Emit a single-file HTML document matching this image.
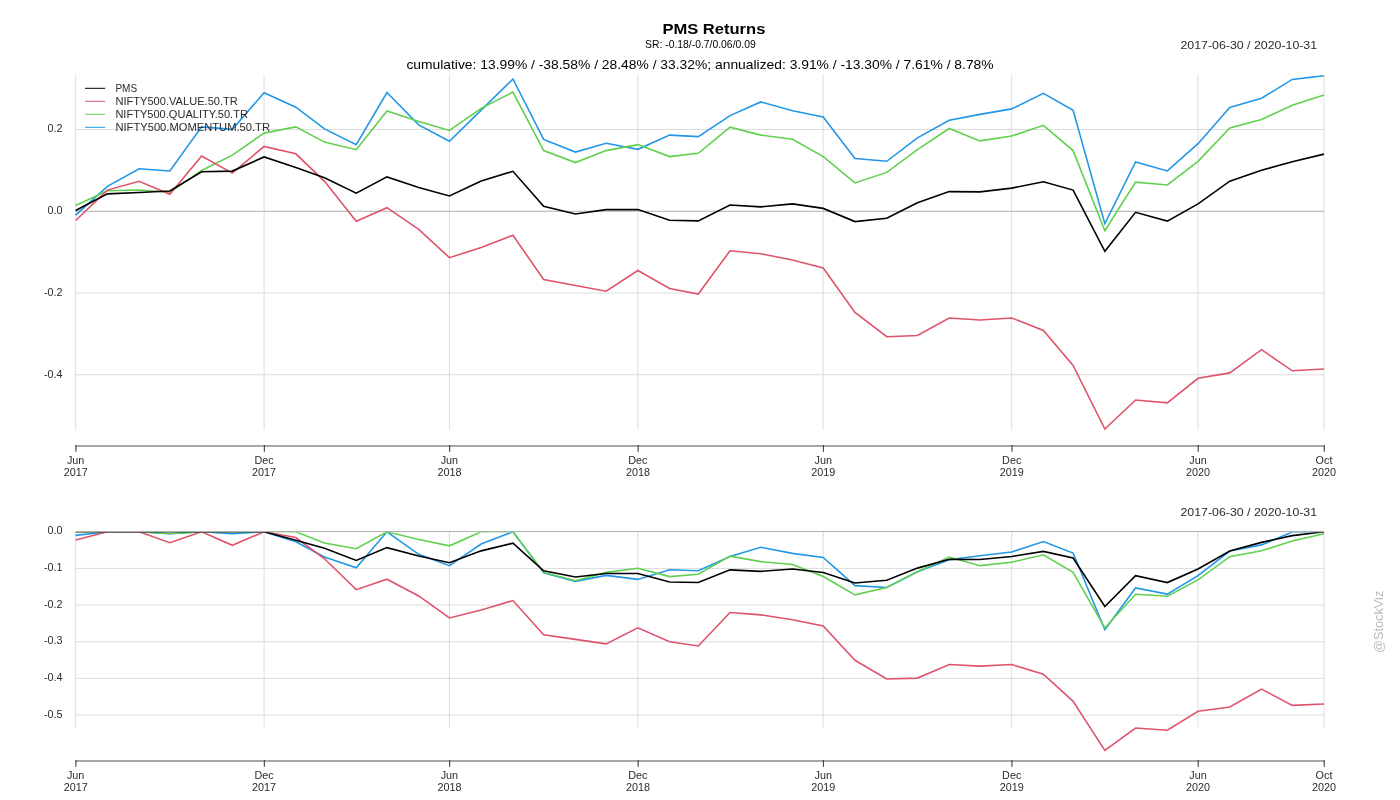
<!DOCTYPE html><html><head><meta charset="utf-8"><style>
html,body{margin:0;padding:0;background:#fff;width:1400px;height:800px;overflow:hidden}
svg{display:block;will-change:transform}
text{font-family:"Liberation Sans", sans-serif}
</style></head><body>
<svg width="1400" height="800" viewBox="0 0 1400 800">
<defs><clipPath id="ct"><rect x="75" y="75.3" width="1249.5" height="354.7"/></clipPath>
<clipPath id="cb"><rect x="75" y="532.25" width="1250" height="225.75"/></clipPath></defs>
<rect width="1400" height="800" fill="#fff"/>
<text x="662.4" y="34" font-size="15" font-weight="bold" fill="#000" textLength="103" lengthAdjust="spacingAndGlyphs">PMS Returns</text>
<text x="645.1" y="47.8" font-size="11" fill="#000" textLength="110.6" lengthAdjust="spacingAndGlyphs">SR: -0.18/-0.7/0.06/0.09</text>
<text x="406.4" y="68.8" font-size="12.6" fill="#000" textLength="587.2" lengthAdjust="spacingAndGlyphs">cumulative: 13.99% / -38.58% / 28.48% / 33.32%; annualized: 3.91% / -13.30% / 7.61% / 8.78%</text>
<text x="1180.5" y="48.9" font-size="11" fill="#2b2b2b" textLength="136.6" lengthAdjust="spacingAndGlyphs">2017-06-30 / 2020-10-31</text>
<text x="1180.5" y="515.9" font-size="11" fill="#2b2b2b" textLength="136.6" lengthAdjust="spacingAndGlyphs">2017-06-30 / 2020-10-31</text>
<line x1="75.65" y1="75.0" x2="75.65" y2="429.5" stroke="#dcdcdc" stroke-width="1"/>
<line x1="264.1" y1="75.0" x2="264.1" y2="429.5" stroke="#dcdcdc" stroke-width="1"/>
<line x1="449.4" y1="75.0" x2="449.4" y2="429.5" stroke="#dcdcdc" stroke-width="1"/>
<line x1="637.9" y1="75.0" x2="637.9" y2="429.5" stroke="#dcdcdc" stroke-width="1"/>
<line x1="823.2" y1="75.0" x2="823.2" y2="429.5" stroke="#dcdcdc" stroke-width="1"/>
<line x1="1011.7" y1="75.0" x2="1011.7" y2="429.5" stroke="#dcdcdc" stroke-width="1"/>
<line x1="1198.0" y1="75.0" x2="1198.0" y2="429.5" stroke="#dcdcdc" stroke-width="1"/>
<line x1="1324.0" y1="75.0" x2="1324.0" y2="429.5" stroke="#dcdcdc" stroke-width="1"/>
<line x1="75.65" y1="129.50" x2="1324.0" y2="129.50" stroke="#dcdcdc" stroke-width="1"/>
<line x1="75.65" y1="293.00" x2="1324.0" y2="293.00" stroke="#dcdcdc" stroke-width="1"/>
<line x1="75.65" y1="374.75" x2="1324.0" y2="374.75" stroke="#dcdcdc" stroke-width="1"/>
<line x1="75.65" y1="211.25" x2="1324.0" y2="211.25" stroke="#b0b0b0" stroke-width="1"/>
<text x="62.5" y="132.40" font-size="10.8" fill="#2b2b2b" text-anchor="end">0.2</text>
<text x="62.5" y="214.15" font-size="10.8" fill="#2b2b2b" text-anchor="end">0.0</text>
<text x="62.5" y="295.90" font-size="10.8" fill="#2b2b2b" text-anchor="end">-0.2</text>
<text x="62.5" y="377.65" font-size="10.8" fill="#2b2b2b" text-anchor="end">-0.4</text>
<line x1="75.65" y1="531.3" x2="75.65" y2="727.5" stroke="#dcdcdc" stroke-width="1"/>
<line x1="264.1" y1="531.3" x2="264.1" y2="727.5" stroke="#dcdcdc" stroke-width="1"/>
<line x1="449.4" y1="531.3" x2="449.4" y2="727.5" stroke="#dcdcdc" stroke-width="1"/>
<line x1="637.9" y1="531.3" x2="637.9" y2="727.5" stroke="#dcdcdc" stroke-width="1"/>
<line x1="823.2" y1="531.3" x2="823.2" y2="727.5" stroke="#dcdcdc" stroke-width="1"/>
<line x1="1011.7" y1="531.3" x2="1011.7" y2="727.5" stroke="#dcdcdc" stroke-width="1"/>
<line x1="1198.0" y1="531.3" x2="1198.0" y2="727.5" stroke="#dcdcdc" stroke-width="1"/>
<line x1="1324.0" y1="531.3" x2="1324.0" y2="727.5" stroke="#dcdcdc" stroke-width="1"/>
<line x1="75.65" y1="568.44" x2="1324.0" y2="568.44" stroke="#dcdcdc" stroke-width="1"/>
<line x1="75.65" y1="605.08" x2="1324.0" y2="605.08" stroke="#dcdcdc" stroke-width="1"/>
<line x1="75.65" y1="641.72" x2="1324.0" y2="641.72" stroke="#dcdcdc" stroke-width="1"/>
<line x1="75.65" y1="678.36" x2="1324.0" y2="678.36" stroke="#dcdcdc" stroke-width="1"/>
<line x1="75.65" y1="715.00" x2="1324.0" y2="715.00" stroke="#dcdcdc" stroke-width="1"/>
<text x="62.5" y="534.30" font-size="10.8" fill="#2b2b2b" text-anchor="end">0.0</text>
<text x="62.5" y="570.94" font-size="10.8" fill="#2b2b2b" text-anchor="end">-0.1</text>
<text x="62.5" y="607.58" font-size="10.8" fill="#2b2b2b" text-anchor="end">-0.2</text>
<text x="62.5" y="644.22" font-size="10.8" fill="#2b2b2b" text-anchor="end">-0.3</text>
<text x="62.5" y="680.86" font-size="10.8" fill="#2b2b2b" text-anchor="end">-0.4</text>
<text x="62.5" y="717.50" font-size="10.8" fill="#2b2b2b" text-anchor="end">-0.5</text>
<g clip-path="url(#ct)" fill="none" stroke-width="1.6" stroke-linejoin="miter" stroke-miterlimit="10">
<polyline points="75.65,215.20 107.40,186.30 139.14,168.80 169.87,171.00 201.61,126.90 232.33,129.30 264.08,92.75 295.83,107.20 324.50,128.90 356.25,144.60 386.97,92.50 418.72,124.90 449.44,141.25 481.19,110.10 512.93,79.00 543.65,139.40 575.40,152.10 606.12,143.30 637.87,149.30 669.62,135.10 698.29,136.60 730.04,115.60 760.76,101.90 792.51,110.80 823.23,116.90 854.97,158.50 886.72,161.30 917.44,137.90 949.19,120.25 979.91,114.40 1011.66,108.90 1043.41,93.40 1073.10,110.30 1104.85,223.60 1135.57,161.90 1167.32,170.95 1198.04,143.70 1229.79,107.45 1261.53,98.30 1292.26,79.40 1324.00,75.60" stroke="#2297E6"/>
<polyline points="75.65,205.50 107.40,190.80 139.14,190.00 169.87,192.30 201.61,170.50 232.33,155.10 264.08,133.10 295.83,126.90 324.50,142.10 356.25,149.70 386.97,110.90 418.72,121.60 449.44,130.40 481.19,108.40 512.93,92.10 543.65,150.60 575.40,162.60 606.12,150.60 637.87,144.60 669.62,156.60 698.29,153.25 730.04,127.20 760.76,135.10 792.51,139.20 823.23,156.60 854.97,182.90 886.72,172.40 917.44,149.70 949.19,128.50 979.91,140.90 1011.66,136.00 1043.41,125.30 1073.10,150.60 1104.85,230.70 1135.57,182.10 1167.32,185.00 1198.04,161.35 1229.79,127.90 1261.53,119.50 1292.26,105.30 1324.00,94.90" stroke="#61D04F"/>
<polyline points="75.65,220.50 107.40,190.10 139.14,181.30 169.87,194.30 201.61,156.00 232.33,173.10 264.08,146.40 295.83,153.80 324.50,181.30 356.25,221.20 386.97,207.70 418.72,229.30 449.44,257.70 481.19,247.60 512.93,235.30 543.65,279.50 575.40,285.50 606.12,291.25 637.87,270.50 669.62,288.50 698.29,294.00 730.04,250.75 760.76,253.75 792.51,260.00 823.23,268.00 854.97,312.50 886.72,336.75 917.44,335.50 949.19,318.00 979.91,320.00 1011.66,318.00 1043.41,330.50 1073.10,365.50 1104.85,429.00 1135.57,400.00 1167.32,402.90 1198.04,378.30 1229.79,372.90 1261.53,349.70 1292.26,370.80 1324.00,369.00" stroke="#DF536B"/>
<polyline points="75.65,210.50 107.40,193.90 139.14,192.50 169.87,191.00 201.61,171.80 232.33,171.10 264.08,156.90 295.83,167.50 324.50,177.70 356.25,193.10 386.97,176.90 418.72,187.50 449.44,196.00 481.19,181.00 512.93,171.30 543.65,206.20 575.40,214.00 606.12,209.60 637.87,209.60 669.62,220.30 698.29,220.90 730.04,205.00 760.76,206.90 792.51,203.90 823.23,208.40 854.97,221.60 886.72,218.20 917.44,202.80 949.19,191.60 979.91,191.90 1011.66,188.10 1043.41,181.70 1073.10,190.10 1104.85,251.30 1135.57,212.30 1167.32,221.10 1198.04,203.90 1229.79,181.20 1261.53,170.30 1292.26,161.70 1324.00,154.10" stroke="#000000"/>
</g>
<g clip-path="url(#cb)" fill="none" stroke-width="1.6" stroke-linejoin="miter" stroke-miterlimit="10">
<polyline points="75.65,535.34 107.40,531.80 139.14,531.80 169.87,533.59 201.61,531.80 232.33,533.58 264.08,531.80 295.83,541.84 324.50,556.92 356.25,567.83 386.97,531.80 418.72,554.30 449.44,565.66 481.19,544.02 512.93,531.80 543.65,572.71 575.40,581.31 606.12,575.35 637.87,579.41 669.62,569.79 698.29,570.81 730.04,556.59 760.76,547.31 792.51,553.34 823.23,557.47 854.97,585.64 886.72,587.54 917.44,571.69 949.19,559.74 979.91,555.78 1011.66,552.05 1043.41,541.55 1073.10,553.00 1104.85,629.73 1135.57,587.95 1167.32,594.07 1198.04,575.62 1229.79,551.07 1261.53,544.87 1292.26,532.07 1324.00,531.80" stroke="#2297E6"/>
<polyline points="75.65,531.80 107.40,531.80 139.14,531.80 169.87,533.76 201.61,531.80 232.33,531.80 264.08,531.80 295.83,531.80 324.50,543.09 356.25,548.74 386.97,531.80 418.72,539.50 449.44,545.83 481.19,531.80 512.93,531.80 543.65,572.40 575.40,580.73 606.12,572.40 637.87,568.24 669.62,576.57 698.29,574.24 730.04,556.16 760.76,561.65 792.51,564.49 823.23,576.57 854.97,594.82 886.72,587.53 917.44,571.78 949.19,557.06 979.91,565.67 1011.66,562.27 1043.41,554.84 1073.10,572.40 1104.85,628.00 1135.57,594.27 1167.32,596.28 1198.04,579.86 1229.79,556.65 1261.53,550.82 1292.26,540.96 1324.00,533.74" stroke="#61D04F"/>
<polyline points="75.65,540.09 107.40,531.80 139.14,531.80 169.87,542.66 201.61,531.80 232.33,545.30 264.08,531.80 295.83,537.52 324.50,558.80 356.25,589.67 386.97,579.22 418.72,595.94 449.44,617.91 481.19,610.09 512.93,600.58 543.65,634.77 575.40,639.41 606.12,643.86 637.87,627.81 669.62,641.74 698.29,645.99 730.04,612.53 760.76,614.85 792.51,619.69 823.23,625.88 854.97,660.30 886.72,679.06 917.44,678.10 949.19,664.56 979.91,666.11 1011.66,664.56 1043.41,674.23 1073.10,701.31 1104.85,750.43 1135.57,728.00 1167.32,730.24 1198.04,711.21 1229.79,707.03 1261.53,689.08 1292.26,705.41 1324.00,704.01" stroke="#DF536B"/>
<polyline points="75.65,531.80 107.40,531.80 139.14,531.80 169.87,531.80 201.61,531.80 232.33,531.80 264.08,531.80 295.83,540.19 324.50,548.26 356.25,560.44 386.97,547.62 418.72,556.01 449.44,562.74 481.19,550.87 512.93,543.19 543.65,570.81 575.40,576.98 606.12,573.50 637.87,573.50 669.62,581.96 698.29,582.44 730.04,569.86 760.76,571.36 792.51,568.99 823.23,572.55 854.97,582.99 886.72,580.30 917.44,568.12 949.19,559.25 979.91,559.49 1011.66,556.49 1043.41,551.42 1073.10,558.07 1104.85,606.49 1135.57,575.63 1167.32,582.59 1198.04,568.99 1229.79,551.03 1261.53,542.40 1292.26,535.60 1324.00,531.80" stroke="#000000"/>
</g>
<line x1="75.65" y1="531.5" x2="1324.0" y2="531.5" stroke="#b0b0b0" stroke-width="1"/>
<line x1="85" y1="88.3" x2="105.2" y2="88.3" stroke="#000000" stroke-width="1"/>
<text x="115.4" y="91.8" font-size="10.6" fill="#2b2b2b" textLength="21.7" lengthAdjust="spacingAndGlyphs">PMS</text>
<line x1="85" y1="101.3" x2="105.2" y2="101.3" stroke="#DF536B" stroke-width="1"/>
<text x="115.4" y="104.8" font-size="10.6" fill="#2b2b2b" textLength="122.5" lengthAdjust="spacingAndGlyphs">NIFTY500.VALUE.50.TR</text>
<line x1="85" y1="114.3" x2="105.2" y2="114.3" stroke="#61D04F" stroke-width="1"/>
<text x="115.4" y="117.8" font-size="10.6" fill="#2b2b2b" textLength="132.5" lengthAdjust="spacingAndGlyphs">NIFTY500.QUALITY.50.TR</text>
<line x1="85" y1="127.3" x2="105.2" y2="127.3" stroke="#2297E6" stroke-width="1"/>
<text x="115.4" y="130.8" font-size="10.6" fill="#2b2b2b" textLength="154.6" lengthAdjust="spacingAndGlyphs">NIFTY500.MOMENTUM.50.TR</text>
<line x1="75.15" y1="446.0" x2="1324.5" y2="446.0" stroke="#a6a6a6" stroke-width="2"/>
<line x1="75.90" y1="445.0" x2="75.90" y2="451.8" stroke="#454545" stroke-width="1.15"/>
<text x="75.65" y="464.0" font-size="10.8" fill="#2b2b2b" text-anchor="middle">Jun</text>
<text x="75.65" y="475.9" font-size="10.8" fill="#2b2b2b" text-anchor="middle">2017</text>
<line x1="264.35" y1="445.0" x2="264.35" y2="451.8" stroke="#454545" stroke-width="1.15"/>
<text x="264.10" y="464.0" font-size="10.8" fill="#2b2b2b" text-anchor="middle">Dec</text>
<text x="264.10" y="475.9" font-size="10.8" fill="#2b2b2b" text-anchor="middle">2017</text>
<line x1="449.65" y1="445.0" x2="449.65" y2="451.8" stroke="#454545" stroke-width="1.15"/>
<text x="449.40" y="464.0" font-size="10.8" fill="#2b2b2b" text-anchor="middle">Jun</text>
<text x="449.40" y="475.9" font-size="10.8" fill="#2b2b2b" text-anchor="middle">2018</text>
<line x1="638.15" y1="445.0" x2="638.15" y2="451.8" stroke="#454545" stroke-width="1.15"/>
<text x="637.90" y="464.0" font-size="10.8" fill="#2b2b2b" text-anchor="middle">Dec</text>
<text x="637.90" y="475.9" font-size="10.8" fill="#2b2b2b" text-anchor="middle">2018</text>
<line x1="823.45" y1="445.0" x2="823.45" y2="451.8" stroke="#454545" stroke-width="1.15"/>
<text x="823.20" y="464.0" font-size="10.8" fill="#2b2b2b" text-anchor="middle">Jun</text>
<text x="823.20" y="475.9" font-size="10.8" fill="#2b2b2b" text-anchor="middle">2019</text>
<line x1="1011.95" y1="445.0" x2="1011.95" y2="451.8" stroke="#454545" stroke-width="1.15"/>
<text x="1011.70" y="464.0" font-size="10.8" fill="#2b2b2b" text-anchor="middle">Dec</text>
<text x="1011.70" y="475.9" font-size="10.8" fill="#2b2b2b" text-anchor="middle">2019</text>
<line x1="1198.25" y1="445.0" x2="1198.25" y2="451.8" stroke="#454545" stroke-width="1.15"/>
<text x="1198.00" y="464.0" font-size="10.8" fill="#2b2b2b" text-anchor="middle">Jun</text>
<text x="1198.00" y="475.9" font-size="10.8" fill="#2b2b2b" text-anchor="middle">2020</text>
<line x1="1324.25" y1="445.0" x2="1324.25" y2="451.8" stroke="#454545" stroke-width="1.15"/>
<text x="1324.00" y="464.0" font-size="10.8" fill="#2b2b2b" text-anchor="middle">Oct</text>
<text x="1324.00" y="475.9" font-size="10.8" fill="#2b2b2b" text-anchor="middle">2020</text>
<line x1="75.15" y1="761.0" x2="1324.5" y2="761.0" stroke="#a6a6a6" stroke-width="2"/>
<line x1="75.90" y1="760.0" x2="75.90" y2="766.8" stroke="#454545" stroke-width="1.15"/>
<text x="75.65" y="778.7" font-size="10.8" fill="#2b2b2b" text-anchor="middle">Jun</text>
<text x="75.65" y="790.7" font-size="10.8" fill="#2b2b2b" text-anchor="middle">2017</text>
<line x1="264.35" y1="760.0" x2="264.35" y2="766.8" stroke="#454545" stroke-width="1.15"/>
<text x="264.10" y="778.7" font-size="10.8" fill="#2b2b2b" text-anchor="middle">Dec</text>
<text x="264.10" y="790.7" font-size="10.8" fill="#2b2b2b" text-anchor="middle">2017</text>
<line x1="449.65" y1="760.0" x2="449.65" y2="766.8" stroke="#454545" stroke-width="1.15"/>
<text x="449.40" y="778.7" font-size="10.8" fill="#2b2b2b" text-anchor="middle">Jun</text>
<text x="449.40" y="790.7" font-size="10.8" fill="#2b2b2b" text-anchor="middle">2018</text>
<line x1="638.15" y1="760.0" x2="638.15" y2="766.8" stroke="#454545" stroke-width="1.15"/>
<text x="637.90" y="778.7" font-size="10.8" fill="#2b2b2b" text-anchor="middle">Dec</text>
<text x="637.90" y="790.7" font-size="10.8" fill="#2b2b2b" text-anchor="middle">2018</text>
<line x1="823.45" y1="760.0" x2="823.45" y2="766.8" stroke="#454545" stroke-width="1.15"/>
<text x="823.20" y="778.7" font-size="10.8" fill="#2b2b2b" text-anchor="middle">Jun</text>
<text x="823.20" y="790.7" font-size="10.8" fill="#2b2b2b" text-anchor="middle">2019</text>
<line x1="1011.95" y1="760.0" x2="1011.95" y2="766.8" stroke="#454545" stroke-width="1.15"/>
<text x="1011.70" y="778.7" font-size="10.8" fill="#2b2b2b" text-anchor="middle">Dec</text>
<text x="1011.70" y="790.7" font-size="10.8" fill="#2b2b2b" text-anchor="middle">2019</text>
<line x1="1198.25" y1="760.0" x2="1198.25" y2="766.8" stroke="#454545" stroke-width="1.15"/>
<text x="1198.00" y="778.7" font-size="10.8" fill="#2b2b2b" text-anchor="middle">Jun</text>
<text x="1198.00" y="790.7" font-size="10.8" fill="#2b2b2b" text-anchor="middle">2020</text>
<line x1="1324.25" y1="760.0" x2="1324.25" y2="766.8" stroke="#454545" stroke-width="1.15"/>
<text x="1324.00" y="778.7" font-size="10.8" fill="#2b2b2b" text-anchor="middle">Oct</text>
<text x="1324.00" y="790.7" font-size="10.8" fill="#2b2b2b" text-anchor="middle">2020</text>
<text transform="translate(1383,653) rotate(-90)" x="0" y="0" font-size="12.8" fill="#bbbbbb" textLength="62.3" lengthAdjust="spacingAndGlyphs">@StockViz</text>
</svg></body></html>
